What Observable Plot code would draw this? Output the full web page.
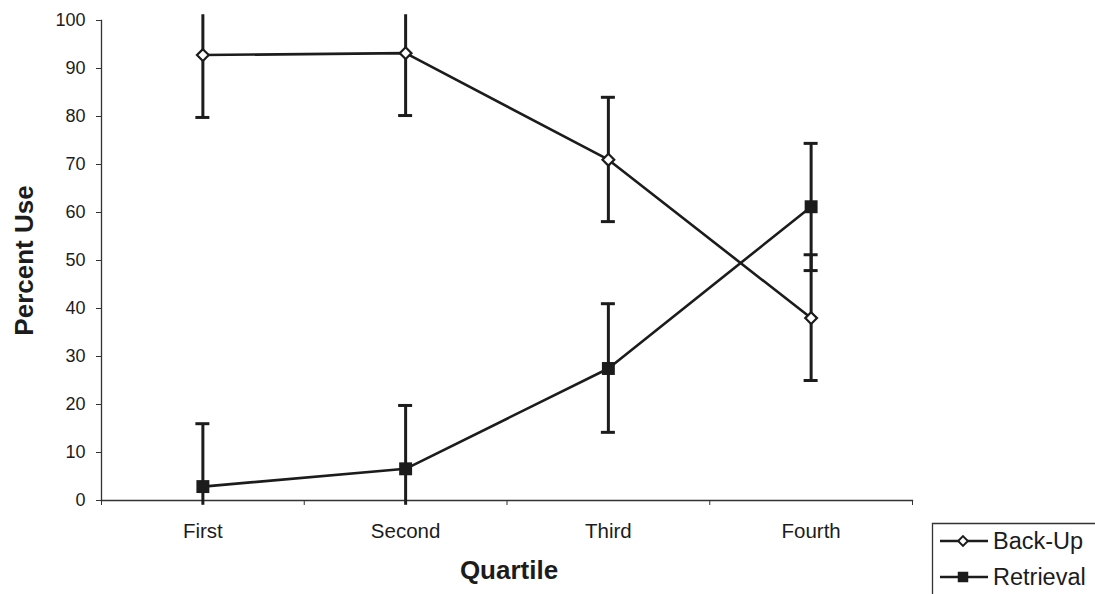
<!DOCTYPE html>
<html>
<head>
<meta charset="utf-8">
<script src="https://cdn.jsdelivr.net/npm/d3@7"></script>
<script src="https://cdn.jsdelivr.net/npm/@observablehq/plot@0.6"></script>
<style>
  html, body { margin: 0; padding: 0; background: #fff; }
  #chart { position: relative; width: 1095px; height: 594px; overflow: hidden; }
</style>
</head>
<body>
<div id="chart"></div>
<script>
// ---- data ----
const categories = ["First", "Second", "Third", "Fourth"];
const seriesNames = ["Back-Up", "Retrieval"];
const backupMean = [92.8, 93.2, 71.0, 38.0];
const backupLow = [79.8, 80.2, 58.1, 25.0];
const backupHigh = [105.8, 106.2, 84.0, 51.2];
const retrievalMean = [2.9, 6.6, 27.5, 61.2];
const retrievalLow = [-10.3, -6.7, 14.2, 47.9];
const retrievalHigh = [16.0, 19.8, 41.0, 74.4];
const yTicks = [0, 10, 20, 30, 40, 50, 60, 70, 80, 90, 100];

// ---- build table ----
const rows = [];
categories.forEach((c, i) => {
  rows.push({series: seriesNames[0], cat: c, pos: i + 0.5, mean: backupMean[i], low: backupLow[i], high: backupHigh[i]});
});
categories.forEach((c, i) => {
  rows.push({series: seriesNames[1], cat: c, pos: i + 0.5, mean: retrievalMean[i], low: retrievalLow[i], high: retrievalHigh[i]});
});
const clipHigh = 101.2, clipLow = -1;
const ink = "#1c1c1c";
const font = "'Liberation Sans', Arial, sans-serif";

const plot = Plot.plot({
  width: 1095,
  height: 594,
  marginLeft: 101,
  marginRight: 183,
  marginTop: 20,
  marginBottom: 94,
  style: {fontFamily: font, color: ink, background: "#fff"},
  x: {domain: [0, categories.length], axis: null},
  y: {domain: [0, 100], axis: null},
  marks: [
    Plot.frame({anchor: "left", stroke: "#333", strokeWidth: 1.3}),
    Plot.frame({anchor: "bottom", stroke: "#333", strokeWidth: 1.3}),
    Plot.axisY({ticks: yTicks, tickSize: 5, tickPadding: 11, fontSize: 18, label: null, stroke: "#333"}),
    Plot.axisX({ticks: d3.range(0, categories.length + 1), tickSize: 5, tickFormat: () => "", label: null, stroke: "#333"}),
    Plot.axisX({ticks: categories.map((c, i) => i + 0.5), tickSize: 0, tickPadding: 23, fontSize: 20.5,
      tickFormat: (v) => categories[Math.round(v - 0.5)], label: null}),
    // error bars
    Plot.ruleX(rows, {x: "pos", y1: d => Math.max(d.low, clipLow), y2: d => Math.min(d.high, clipHigh), stroke: ink, strokeWidth: 3}),
    Plot.ruleY(rows.filter(d => d.high <= 100), {y: "high", x1: "pos", x2: "pos", insetLeft: -7, insetRight: -7, stroke: ink, strokeWidth: 3}),
    Plot.ruleY(rows.filter(d => d.low >= 0), {y: "low", x1: "pos", x2: "pos", insetLeft: -7, insetRight: -7, stroke: ink, strokeWidth: 3}),
    // lines
    Plot.line(rows, {x: "pos", y: "mean", z: "series", stroke: ink, strokeWidth: 2.6}),
    // markers
    Plot.dot(rows.filter(d => d.series === seriesNames[0]), {x: "pos", y: "mean", symbol: "diamond2", r: 5.3, fill: "#fff", stroke: ink, strokeWidth: 2.2}),
    Plot.dot(rows.filter(d => d.series === seriesNames[1]), {x: "pos", y: "mean", symbol: "square", r: 7.3, fill: ink, stroke: "none"}),
    // axis titles
    Plot.text(["Percent Use"], {frameAnchor: "left", rotate: -90, dx: -77, text: d => d, fontSize: 26, fontWeight: "bold", fill: ink, lineAnchor: "middle", textAnchor: "middle"}),
    Plot.text(["Quartile"], {frameAnchor: "bottom", dx: 2, dy: 78, text: d => d, fontSize: 26, fontWeight: "bold", fill: ink, lineAnchor: "bottom", textAnchor: "middle"})
  ]
});

document.getElementById("chart").appendChild(plot);

// ---- legend ----
const svg = d3.select(plot);
const lg = svg.append("g").attr("font-family", font).attr("text-anchor", "start");
lg.append("path").attr("d", "M932.5,600 V523.5 H1100").attr("fill", "none").attr("stroke", "#333").attr("stroke-width", 1.3);
const legendItems = [
  {name: seriesNames[0], y: 541, symbol: d3.symbolDiamond2, size: 60, fill: "#fff", stroke: ink},
  {name: seriesNames[1], y: 577, symbol: d3.symbolSquare, size: 110, fill: ink, stroke: "none"}
];
legendItems.forEach(it => {
  lg.append("line").attr("x1", 940).attr("x2", 988).attr("y1", it.y).attr("y2", it.y).attr("stroke", ink).attr("stroke-width", 2.6);
  lg.append("path").attr("d", d3.symbol(it.symbol, it.size)()).attr("transform", `translate(963,${it.y})`)
    .attr("fill", it.fill).attr("stroke", it.stroke).attr("stroke-width", 2);
  lg.append("text").attr("x", 993).attr("y", it.y + 8).attr("font-size", 23.5).attr("fill", ink)
    .attr("text-anchor", "start").text(it.name);
});
</script>
</body>
</html>
